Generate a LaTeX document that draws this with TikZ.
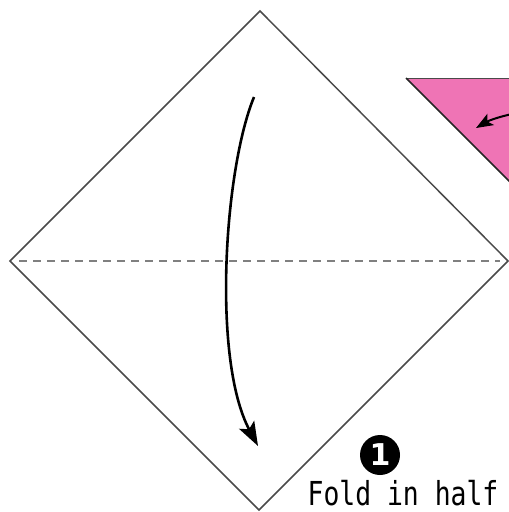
\documentclass[tikz,border=0pt]{standalone}
\usepackage{fontspec}
\newfontfamily\monofont{DejaVu Sans Mono}
\newfontfamily\boldsans{DejaVu Sans}
\usetikzlibrary{arrows.meta}
\definecolor{paperpink}{HTML}{EF74B5}
\definecolor{edgegray}{HTML}{4A4A4A}
\tikzset{
  paperedge/.style={draw=edgegray, line width=1.5pt, line join=miter},
  foldline/.style={draw=gray, line width=1.4pt, dash pattern=on 8pt off 6pt},
  foldarrow/.style={draw=black, line width=2.6pt, -{Stealth[length=24pt,width=17pt,inset=5pt]}},
  smallarrow/.style={draw=black, line width=2pt, -{Stealth[length=17pt,width=13pt,inset=4pt]}},
  stepnum/.style={circle, fill=black, text=white, minimum size=40pt, inner sep=0pt, font=\boldsans\bfseries\fontsize{30}{30}\selectfont},
  caption/.style={font=\monofont\fontsize{33}{33}\selectfont, inner sep=0pt, anchor=base, xscale=0.8}
}
\begin{document}
\begin{tikzpicture}[x=1pt,y=-1pt]
\useasboundingbox (0,0) rectangle (509,512);
\begin{scope}
\clip (0,0) rectangle (509,512);
% pink triangle (top right, partially visible)
\fill[paperpink] (406,78) -- (620,78) -- (620,292) -- cycle;
\draw[edgegray, line width=0.8pt] (406,78) -- (509,78);
\draw[black!85, line width=1.5pt] (406,78) -- (620,292);
\coordinate (ps) at (512,114);
\coordinate (pe) at (476,128);
\draw[smallarrow] (ps) .. controls (498,117) and (488,121) .. (pe);
% square
\coordinate (T) at (260,11);
\coordinate (L) at (10,261);
\coordinate (R) at (508,261);
\coordinate (B) at (259,510);
\path[fill=white] (T) -- (R) -- (B) -- (L) -- cycle;
\draw[paperedge] (T) -- (R) -- (B) -- (L) -- cycle;
\draw[foldline] (19,261) -- (500,261);
\coordinate (as) at (254,97);
\coordinate (ae) at (258,446);
\draw[foldarrow] (as) .. controls (224,170) and (212,360) .. (ae);
\end{scope}
\node[stepnum] (num) at (380,455) {1};
\node[caption] (cap) at (403,505) {Fold in half};
\end{tikzpicture}
\end{document}
